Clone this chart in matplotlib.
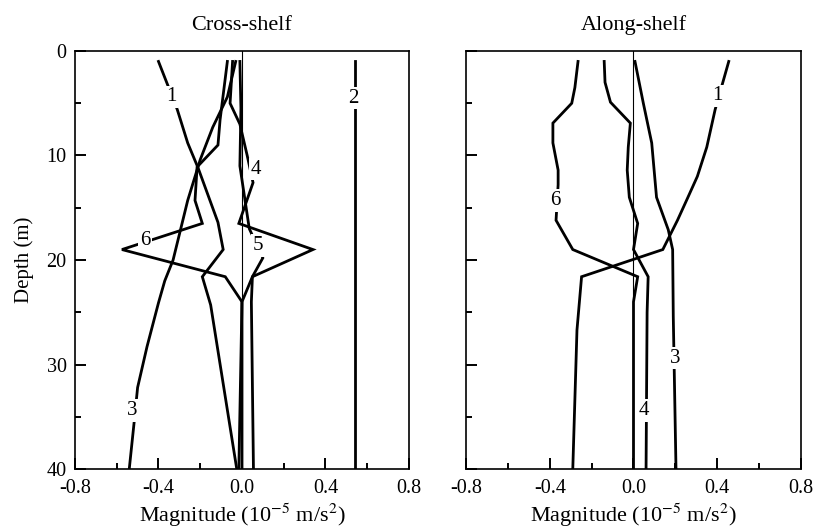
import numpy as np
import matplotlib
matplotlib.use("Agg")
import matplotlib.pyplot as plt
from matplotlib.ticker import MultipleLocator, FormatStrFormatter

plt.rcParams['font.family'] = ['Liberation Serif', 'DejaVu Serif']
plt.rcParams['mathtext.fontset'] = 'stix'
plt.rcParams['axes.unicode_minus'] = False

# cross-shelf momentum terms (1e-5 m/s^2) vs depth (m)
cs1_x = [-0.40, -0.31, -0.26, -0.21, -0.115, -0.09, -0.19, -0.15, -0.025]
cs1_d = [1.0, 5.6, 8.8, 11.2, 16.4, 19.0, 21.6, 24.3, 40.0]
cs2_x = [0.54, 0.54]
cs2_d = [1.0, 40.0]
cs3_x = [-0.03, -0.07, -0.14, -0.20, -0.26, -0.33, -0.37, -0.40, -0.455, -0.50, -0.517, -0.54]
cs3_d = [1.0, 4.4, 7.3, 10.4, 14.3, 20.0, 22.0, 24.1, 28.3, 32.2, 35.6, 40.0]
cs4_x = [-0.045, -0.057, -0.01, 0.025, 0.053, -0.015, 0.34, 0.05, 0.0, 0.0]
cs4_d = [1.0, 5.0, 7.0, 10.0, 12.6, 16.5, 19.0, 21.6, 24.0, 40.0]
cs5_x = [-0.01, -0.005, -0.01, 0.035, 0.10, 0.05, 0.045, 0.055]
cs5_d = [1.0, 5.5, 11.0, 17.0, 19.8, 21.6, 24.0, 40.0]
cs6_x = [-0.07, -0.105, -0.115, -0.215, -0.225, -0.19, -0.575, -0.08, 0.0, -0.015]
cs6_d = [1.0, 6.6, 9.0, 11.1, 14.3, 16.5, 19.0, 21.6, 24.0, 40.0]

# along-shelf terms
as1_x = [0.455, 0.39, 0.35, 0.305, 0.26, 0.21, 0.14, -0.248, -0.27, -0.29]
as1_d = [1.0, 5.6, 9.2, 12.0, 14.0, 16.2, 19.0, 21.6, 26.7, 40.0]
as3_x = [0.007, 0.047, 0.087, 0.11, 0.166, 0.187, 0.19, 0.203]
as3_d = [1.0, 5.0, 8.8, 14.0, 17.1, 19.0, 25.4, 40.0]
as4_x = [-0.14, -0.136, -0.11, -0.015, -0.025, -0.03, -0.02, 0.02, 0.0, 0.07, 0.065, 0.06]
as4_d = [1.0, 3.0, 4.9, 6.9, 9.2, 11.4, 14.0, 16.5, 19.0, 21.6, 25.0, 40.0]
as6_x = [-0.265, -0.28, -0.295, -0.385, -0.385, -0.36, -0.36, -0.37, -0.29, 0.02, 0.0, 0.0]
as6_d = [1.0, 3.5, 5.0, 6.9, 8.8, 11.4, 12.8, 16.2, 19.0, 21.6, 24.0, 40.0]

cross = [(cs1_x, cs1_d), (cs2_x, cs2_d), (cs3_x, cs3_d),
         (cs4_x, cs4_d), (cs5_x, cs5_d), (cs6_x, cs6_d)]
along = [(as1_x, as1_d), (as3_x, as3_d), (as4_x, as4_d), (as6_x, as6_d)]

# curve numbers written on the lines
cross_lab = [('1', -0.34, 4.4), ('2', 0.535, 4.5), ('3', -0.525, 34.4),
             ('4', 0.065, 11.3), ('5', 0.077, 18.6), ('6', -0.465, 18.1)]
along_lab = [('1', 0.40, 4.3), ('6', -0.375, 14.3), ('3', 0.20, 29.4),
             ('4', 0.05, 34.4)]

fig = plt.figure(figsize=(8.15, 5.29), dpi=100)
ax1 = fig.add_axes([0.0920, 0.1134, 0.4098, 0.7902])
ax2 = fig.add_axes([0.5718, 0.1134, 0.4110, 0.7902])

for ax, curves, labs, title in [(ax1, cross, cross_lab, 'Cross-shelf'),
                                (ax2, along, along_lab, 'Along-shelf')]:
    ax.axvline(0, color='k', lw=0.8, zorder=1)
    for x, d in curves:
        ax.plot(x, d, color='k', lw=2.0, solid_joinstyle='miter', zorder=2)
    for s, x, d in labs:
        ax.text(x, d, s, ha='center', va='center', fontsize=15, zorder=3,
                bbox=dict(fc='white', ec='none', pad=1.2))
    ax.set_xlim(-0.8, 0.8)
    ax.set_ylim(40, 0)
    ax.xaxis.set_major_locator(MultipleLocator(0.4))
    ax.xaxis.set_minor_locator(MultipleLocator(0.2))
    ax.xaxis.set_major_formatter(FormatStrFormatter('%.1f'))
    ax.yaxis.set_major_locator(MultipleLocator(10))
    ax.yaxis.set_minor_locator(MultipleLocator(5))
    ax.tick_params(which='both', direction='in', top=False, right=False,
                   width=1.4, labelsize=14.5)
    ax.tick_params(axis='x', which='major', length=8, pad=7)
    ax.tick_params(axis='y', which='major', length=8, pad=6)
    ax.tick_params(which='minor', length=4)
    for sp in ax.spines.values():
        sp.set_linewidth(1.2)
    ax.set_title(title, fontsize=16, pad=15)
    ax.set_xlabel('Magnitude (10$^{-5}$ m/s$^2$)', fontsize=16, labelpad=3)

ax1.set_ylabel('Depth (m)', fontsize=15, labelpad=9)
ax2.tick_params(labelleft=False)

fig.savefig('out.png', dpi=100)
